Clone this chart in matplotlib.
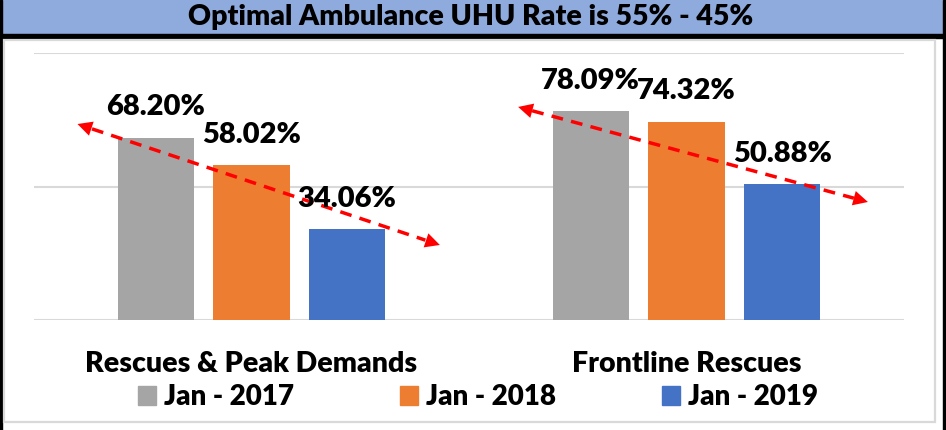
import numpy as np
import matplotlib
matplotlib.use("Agg")
import matplotlib.pyplot as plt
from matplotlib.patches import Rectangle, Patch

# datos
categorias = ['Rescues & Peak Demands', 'Frontline Rescues']
series = ['Jan - 2017', 'Jan - 2018', 'Jan - 2019']
valores_2017 = [68.20, 78.09]
valores_2018 = [58.02, 74.32]
valores_2019 = [34.06, 50.88]
colores = ['#A5A5A5', '#ED7D31', '#4472C4']

# flechas de tendencia (inicio, fin) en unidades de datos
tend_x = [(-0.40, 0.433), (0.613, 1.417)]
tend_y = [(0.734, 0.281), (0.798, 0.442)]

plt.rcParams['font.family'] = ['Lato', 'DejaVu Sans']
peso = 'heavy'

W, H = 946, 430
fig = plt.figure(figsize=(W / 100, H / 100), dpi=100)

# banner del titulo y bordes
fig.patches.append(Rectangle((0, 1 - 34 / H), 943 / W, 34 / H, color='#8FAADC',
                             transform=fig.transFigure, zorder=0))
fig.patches.append(Rectangle((0, 1 - 38 / H), 1, 4 / H, color='black',
                             transform=fig.transFigure, zorder=1))
fig.patches.append(Rectangle((943 / W, 0), 3 / W, 1, color='black',
                             transform=fig.transFigure, zorder=1))
fig.patches.append(Rectangle((0, 0), 1.5 / W, 1, color='black',
                             transform=fig.transFigure, zorder=1))
fig.patches.append(Rectangle((4 / W, 8 / H), 931 / W, 382 / H, fill=False,
                             ec='#D9D9D9', lw=1.6, transform=fig.transFigure, zorder=1))
fig.text(471 / W, 1 - 17 / H, 'Optimal Ambulance UHU Rate is 55% - 45%',
         ha='center', va='center', fontsize=20.5, fontweight=peso)

ax = fig.add_axes([34 / W, 110 / H, 870 / W, 267 / H])
x = np.arange(len(categorias))
ancho = 0.175
desplaz = [-0.22, 0, 0.22]
for vals, off, col, lab in zip([valores_2017, valores_2018, valores_2019], desplaz, colores, series):
    barras = ax.bar(x + off, np.array(vals) / 100, ancho, color=col, label=lab, zorder=2)
    for b, v in zip(barras, vals):
        ax.annotate(f'{v:.2f}%', (b.get_x() + b.get_width() / 2, v / 100),
                    xytext=(0, 22), textcoords='offset points',
                    ha='center', va='center', fontsize=21, fontweight=peso, zorder=5)

ax.set_xlim(-0.5, 1.5)
ax.set_ylim(0, 1)
ax.set_yticks([0, 0.5, 1])
ax.set_yticklabels([])
ax.grid(axis='y', color='#D9D9D9', lw=1.5, zorder=0)
ax.set_axisbelow(True)
for s in ax.spines.values():
    s.set_visible(False)
ax.set_xticks(x)
ax.set_xticklabels(categorias, fontsize=20.5, fontweight=peso, va='center')
ax.tick_params(length=0)
ax.tick_params(axis='x', pad=31.5)

# flechas rojas discontinuas
for (x0, x1), (y0, y1) in zip(tend_x, tend_y):
    t = 0.04
    xa, ya = x0 + (x1 - x0) * t, y0 + (y1 - y0) * t
    xb, yb = x1 - (x1 - x0) * t, y1 - (y1 - y0) * t
    ax.plot([xa, xb], [ya, yb], color='red', lw=2.5, dashes=(3.4, 2.4),
            solid_capstyle='butt', dash_capstyle='butt', zorder=4, clip_on=False)
    for tip, base in [((x0, y0), (xa, ya)), ((x1, y1), (xb, yb))]:
        ax.annotate('', xy=tip, xytext=base,
                    arrowprops=dict(arrowstyle='-|>,head_length=0.75,head_width=0.38',
                                    color='red', lw=0, mutation_scale=14,
                                    shrinkA=0, shrinkB=0), zorder=4, annotation_clip=False)

handles = [Patch(color=c, label=s) for c, s in zip(colores, series)]
fig.legend(handles=handles, loc='center', bbox_to_anchor=(478 / W, 33 / H), ncol=3,
           frameon=False, handlelength=0.65, handleheight=0.65,
           handletextpad=0.3, columnspacing=3.8, prop={'weight': peso, 'size': 20})

fig.savefig('out.png', dpi=100)
